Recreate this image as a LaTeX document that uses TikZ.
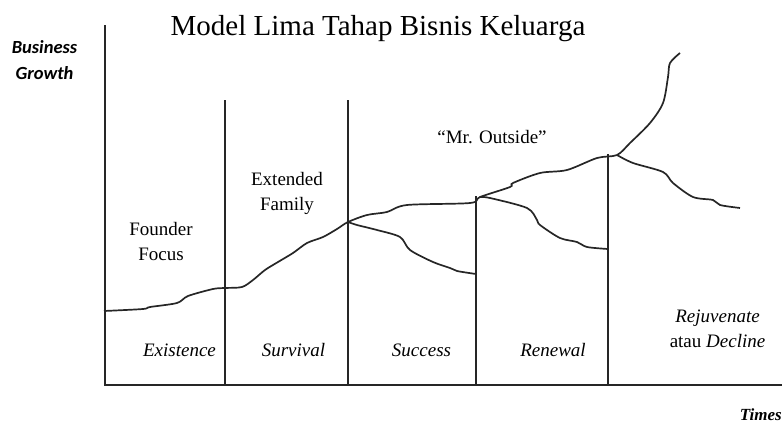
\documentclass[tikz,border=0pt]{standalone}
\usepackage{fontspec}
\setmainfont{Liberation Serif}
\newfontfamily\carlito{Carlito}
\begin{document}
\begin{tikzpicture}[x=1pt,y=-1pt,
  axis/.style={line width=1.8pt, black!85},
  curve/.style={line width=1.7pt, black!85, smooth, tension=0.5},
  lbl/.style={font=\fontsize{19}{23}\selectfont, anchor=base, inner sep=0pt},
  ilbl/.style={lbl, font=\fontsize{19}{23}\selectfont\itshape}]
\useasboundingbox (0,0) rectangle (784,423);
% axes
\coordinate (ytop) at (105,25);
\coordinate (origin) at (105,385);
\coordinate (xend) at (782,385);
\draw[axis] (ytop) -- (origin) -- (xend);
% stage dividers
\coordinate (d1t) at (225,100); \coordinate (d1b) at (225,385);
\coordinate (d2t) at (348,100); \coordinate (d2b) at (348,385);
\coordinate (d3t) at (476,196); \coordinate (d3b) at (476,385);
\coordinate (d4t) at (608,154); \coordinate (d4b) at (608,385);
\draw[axis] (d1t) -- (d1b);
\draw[axis] (d2t) -- (d2b);
\draw[axis] (d3t) -- (d3b);
\draw[axis] (d4t) -- (d4b);
% main growth curve
\draw[curve] plot coordinates {(104,311) (143,309) (150,307) (177,303) (188,296) (213,289) (225,288) (242,287) (253,280) (265,270) (278,262) (293,253) (307,243) (323,237) (337,229) (348,222) (367,215) (387,212) (407,205) (470,203) (480,197) (510,187) (513,183) (540,173) (567,170) (597,158) (617,155) (630,143) (650,123) (663,103) (668,77) (670,63) (680,53)};
% decline branches
\draw[curve] plot coordinates {(348,222) (357,225) (377,230) (400,237) (410,250) (433,262) (450,268) (457,271) (476,274)};
\draw[curve] plot coordinates {(480,197) (490,198) (527,208) (537,220) (540,225) (560,238) (577,242) (587,247) (608,249)};
\draw[curve] plot coordinates {(617,155) (633,163) (663,172) (673,183) (693,197) (713,200) (720,205) (740,208)};
% texts
\node[lbl, font=\fontsize{29}{34}\selectfont] (title) at (378,35) {Model Lima Tahap Bisnis Keluarga};
\node[lbl, font=\fontsize{18.5}{22}\carlito\bfseries\itshape] (yl1) at (44.5,53) {Business};
\node[lbl, font=\fontsize{18.5}{22}\carlito\bfseries\itshape] (yl2) at (44.5,79) {Growth};
\node[lbl, anchor=base east, font=\fontsize{17}{21}\selectfont\bfseries\itshape] (xl) at (782,420) {Times};
\node[lbl] (f1) at (161,235) {Founder};
\node[lbl] (f2) at (161,260) {Focus};
\node[lbl] (e1) at (287,185) {Extended};
\node[lbl] (e2) at (287,210) {Family};
\node[lbl] (mr) at (492,143) {``Mr. Outside''};
\node[ilbl] (s1) at (179.5,356) {Existence};
\node[ilbl] (s2) at (293.5,356) {Survival};
\node[ilbl] (s3) at (421.5,356) {Success};
\node[ilbl] (s4) at (553,356) {Renewal};
\node[ilbl] (s5a) at (717.5,322) {Rejuvenate};
\node[lbl] (s5b) at (717.5,347) {atau \textit{Decline}};
\end{tikzpicture}
\end{document}
